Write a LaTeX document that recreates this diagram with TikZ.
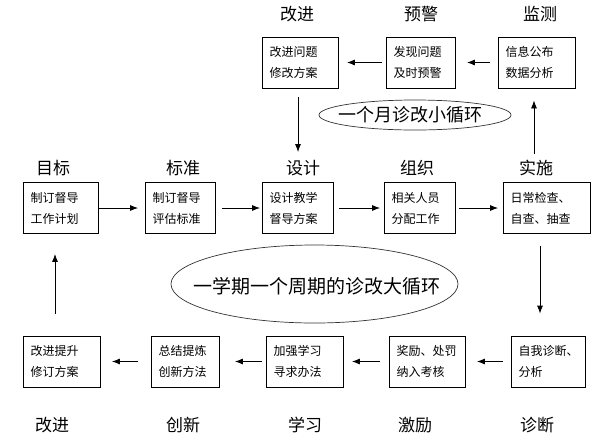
\documentclass[tikz,border=0pt]{standalone}
\usepackage{fontspec}
\setmainfont{Noto Sans CJK SC}
\usetikzlibrary{arrows.meta}

\begin{document}
\begin{tikzpicture}[x=1pt, y=-1pt]
	\tikzset{kasten/.style={rectangle, draw=black, line width=0.8pt, inner xsep=7pt, inner ysep=0pt, minimum height=51pt, align=left, font=\fontsize{12}{21}\selectfont}, titel/.style={inner sep=0pt, font=\fontsize{17}{17}\selectfont}, zyklustext/.style={inner sep=0pt}, zyklus/.style={draw=black!80, line width=0.7pt}, fleche/.style={>={Latex[length=8pt,width=6pt]}, ->, line width=0.8pt}};

	\useasboundingbox (0,0) rectangle (599,440);

	% oben: kleiner Zyklus
	\node[kasten, text width=62pt] (gai)    at (300.5, 62.5) {改进问题\\修改方案};
	\node[kasten, text width=55pt] (yujing) at (421,   62.5) {发现问题\\及时预警};
	\node[kasten, text width=63pt] (jiance) at (537,   62.5) {信息公布\\数据分析};

	\node[titel] (tgai)    at (297, 14) {改进};
	\node[titel] (tyujing) at (421, 14) {预警};
	\node[titel] (tjiance) at (540, 14) {监测};

	% mitte
	\node[kasten, text width=61pt] (mubiao)   at ( 61,   208) {制订督导\\工作计划};
	\node[kasten, text width=56pt] (biaozhun) at (180.5, 208) {制订督导\\评估标准};
	\node[kasten, text width=57pt] (sheji)    at (298,   208) {设计教学\\督导方案};
	\node[kasten, text width=57pt] (zuzhi)    at (420,   208) {相关人员\\分配工作};
	\node[kasten, text width=73pt] (shishi)   at (547,   208) {日常检查、\\自查、抽查};

	\node[titel] (tmubiao)   at ( 53, 168) {目标};
	\node[titel] (tbiaozhun) at (183, 168) {标准};
	\node[titel] (tsheji)    at (303, 168) {设计};
	\node[titel] (tzuzhi)    at (417, 168) {组织};
	\node[titel] (tshishi)   at (536, 168) {实施};

	% unten: grosser Zyklus
	\node[kasten, text width=63pt] (gaijin)    at ( 62,   361.5) {改进提升\\修订方案};
	\node[kasten, text width=54pt] (chuangxin) at (185.5, 361.5) {总结提炼\\创新方法};
	\node[kasten, text width=63pt] (xuexi)     at (305,   361.5) {加强学习\\寻求办法};
	\node[kasten, text width=62pt] (jili)      at (427.5, 361.5) {奖励、处罚\\纳入考核};
	\node[kasten, text width=60pt] (zhenduan)  at (548.5, 361.5) {自我诊断、\\分析};

	\node[titel] (tgaijin)    at ( 52, 425) {改进};
	\node[titel] (tchuangxin) at (183, 425) {创新};
	\node[titel] (txuexi)     at (305, 425) {学习};
	\node[titel] (tjili)      at (415, 425) {激励};
	\node[titel] (tzhenduan)  at (537, 425) {诊断};

	% Ellipsen
	\node[zyklustext, font=\fontsize{18}{18}\selectfont] (klein) at (410, 115) {一个月诊改小循环};
	\draw[zyklus] (415,115) ellipse [x radius=96pt, y radius=15pt];
	\node[zyklustext, font=\fontsize{19}{19}\selectfont] (gross) at (317, 286) {一学期一个周期的诊改大循环};
	\draw[zyklus] (314.5,284) ellipse [x radius=143.5pt, y radius=39pt];

	% Pfeile
	\draw[fleche, shorten <=8pt, shorten >=11pt] (jiance) -- (yujing);
	\draw[fleche, shorten <=4pt, shorten >=8pt]  (yujing) -- (gai);
	\draw[fleche, shorten <=9pt, shorten >=30pt] (sheji.north |- gai.south) -- (sheji.north);
	\draw[fleche, shorten <=28pt, shorten >=12pt] ([xshift=-3pt]jiance.south |- shishi.north) -- ([xshift=-3pt]jiance.south);

	\draw[fleche, shorten <=0pt, shorten >=7pt] (mubiao) -- (biaozhun);
	\draw[fleche, shorten <=6pt, shorten >=2pt] (biaozhun) -- (sheji);
	\draw[fleche, shorten <=5pt, shorten >=4pt] (sheji) -- (zuzhi);
	\draw[fleche, shorten <=3pt, shorten >=5pt] (zuzhi) -- (shishi);

	\draw[fleche, shorten <=12pt, shorten >=22pt] ([xshift=-7pt]shishi.south) -- ([xshift=-7pt]shishi.south |- zhenduan.north);
	\draw[fleche, shorten <=8pt, shorten >=11pt]  (zhenduan) -- (jili);
	\draw[fleche, shorten <=9pt, shorten >=8pt]   (jili) -- (xuexi);
	\draw[fleche, shorten <=4pt, shorten >=15pt]  (xuexi) -- (chuangxin);
	\draw[fleche, shorten <=13pt, shorten >=11pt] (chuangxin) -- (gaijin);
	\draw[fleche, shorten <=22pt, shorten >=20pt] ([xshift=-7pt]gaijin.north) -- ([xshift=-7pt]gaijin.north |- mubiao.south);

\end{tikzpicture}
\end{document}
